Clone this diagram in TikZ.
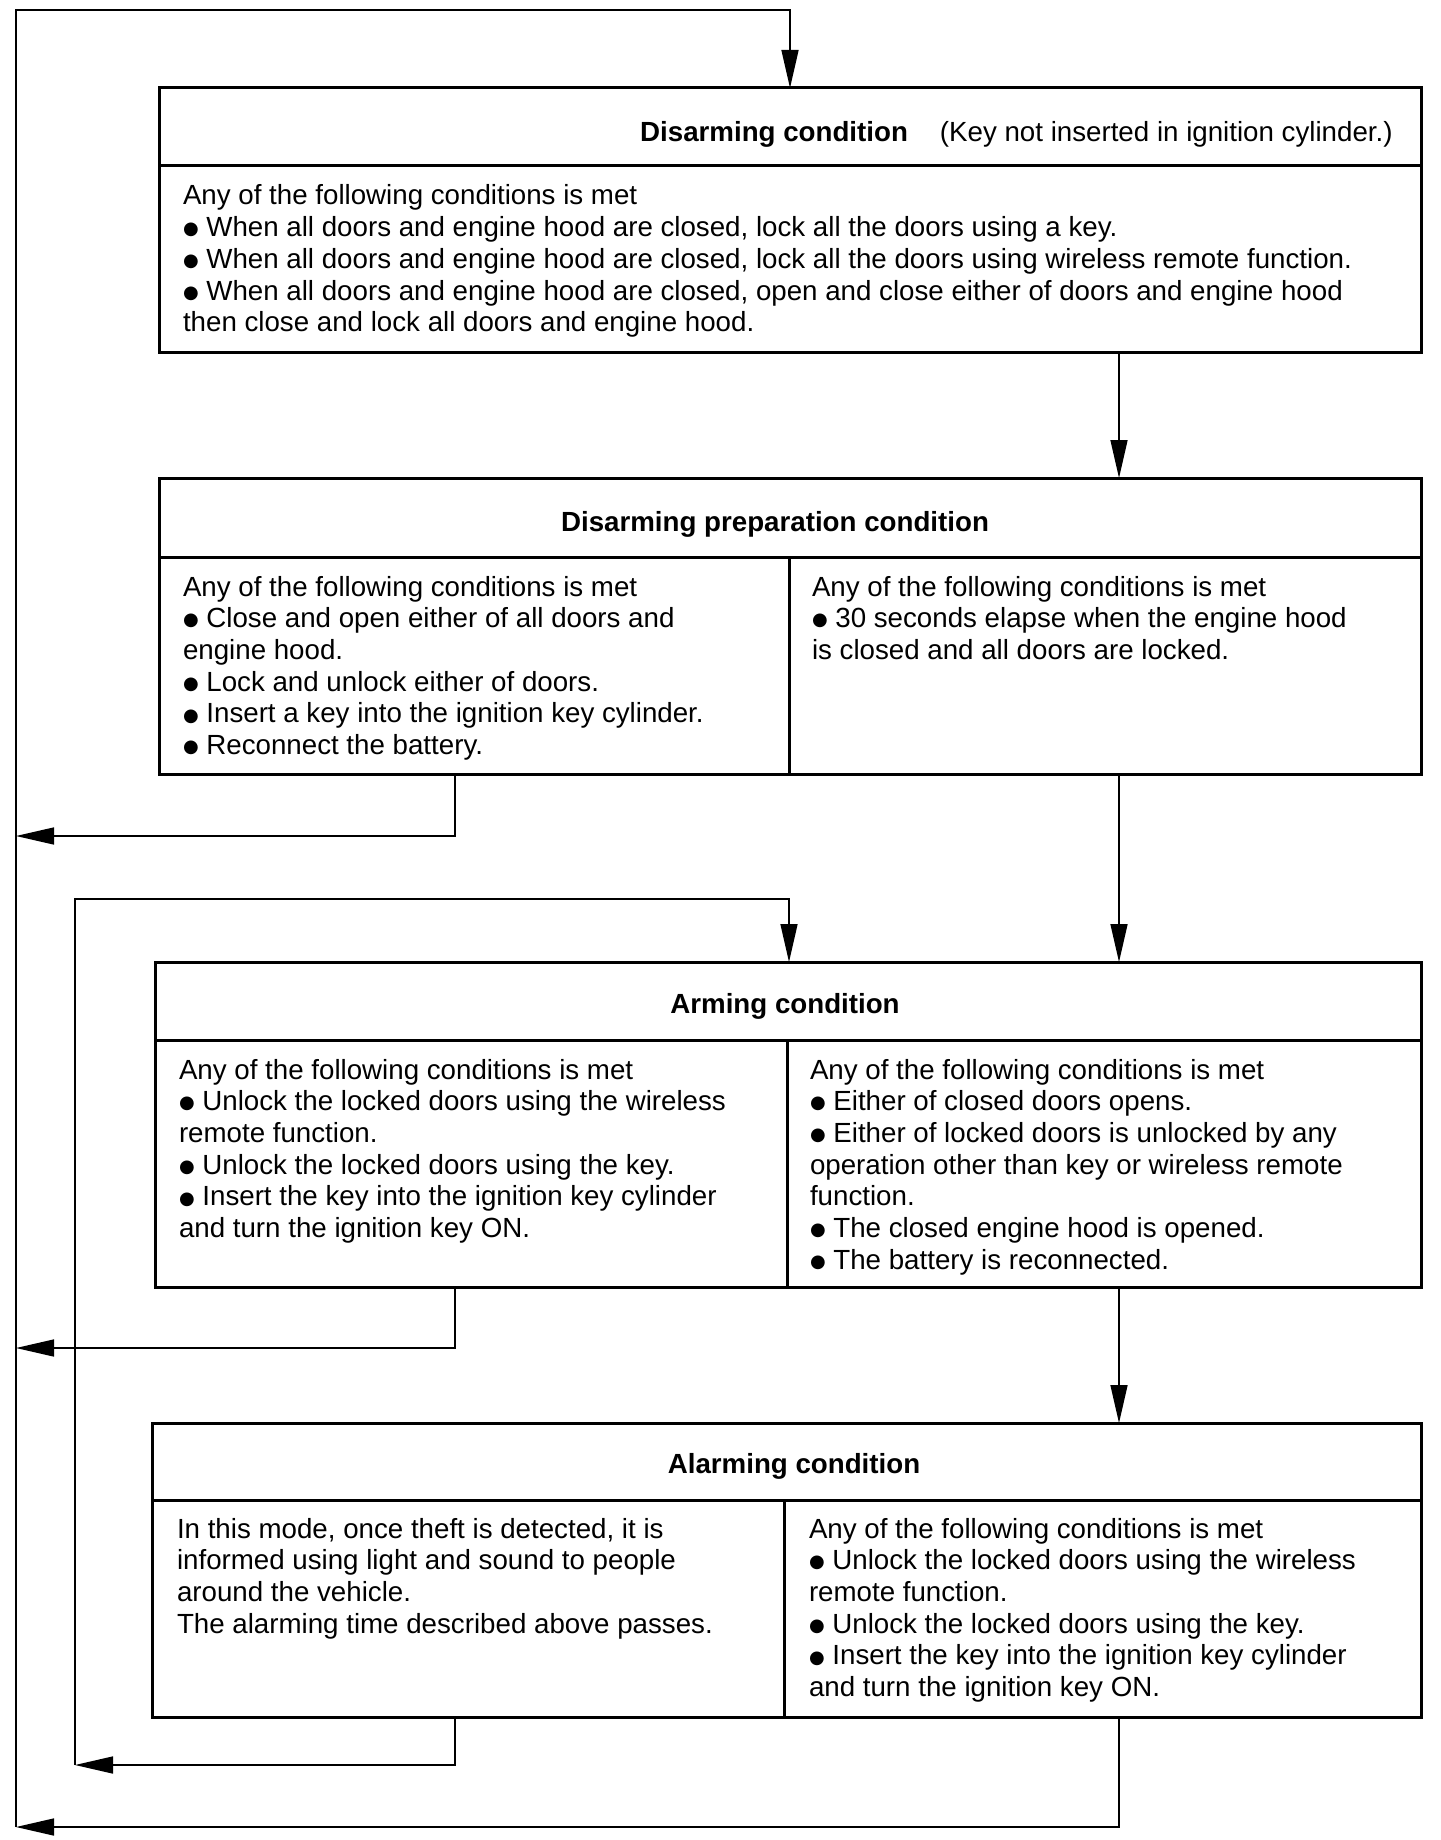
\documentclass[tikz,border=0pt]{standalone}
\usepackage{fontspec}
\setmainfont{Liberation Sans}
\newfontfamily\symfont{DejaVu Sans}
\usetikzlibrary{arrows.meta}
\newcommand\bul{\raisebox{0.9pt}{\symfont\fontsize{9}{9}\selectfont ●}}
\begin{document}
\begin{tikzpicture}[x=0.5pt,y=-0.5pt,
  cell/.style={draw, rectangle, line width=1.5pt, inner sep=0pt, outer sep=0pt, anchor=north west},
  txt/.style={anchor=north west, inner sep=0pt, outer sep=0pt, align=left, font=\fontsize{13.85}{15.85}\selectfont},
  ttl/.style={anchor=base, inner sep=0pt, font=\fontsize{13.85}{16}\selectfont\bfseries},
  arr/.style={draw, line width=0.75pt, -{Triangle[length=19pt,width=8.5pt]}}]
\fill[white] (0,0) rectangle (1440,1840);
\useasboundingbox (0,0) rectangle (1440,1840);

% column coordinates
\coordinate (xr) at (1119,0);
\coordinate (xl) at (455,0);
\coordinate (xm) at (789,0);
\coordinate (Ltop) at (16,10);
\coordinate (Lbot) at (16,1827);
\coordinate (L1) at (16,836);
\coordinate (L2) at (16,1348);
\coordinate (Mtop) at (75,899);
\coordinate (Mbot) at (75,1765);

% Box 1
\node[cell, minimum width=631pt, minimum height=39pt] (h1) at (159,88) {};
\node[cell, minimum width=631pt, minimum height=93.5pt] (b1) at (159,166) {};
\node[anchor=base east, inner sep=0pt, font=\fontsize{13.85}{16}\selectfont] (t1) at (1393,142)
  {\textbf{Disarming condition}\hspace{16pt}(Key not inserted in ignition cylinder.)};
\node[txt] (x1) at (183,181) {\rule{0pt}{12pt}Any of the following conditions is met\\
\bul\ When all doors and engine hood are closed, lock all the doors using a key.\\
\bul\ When all doors and engine hood are closed, lock all the doors using wireless remote function.\\
\bul\ When all doors and engine hood are closed, open and close either of doors and engine hood\\
then close and lock all doors and engine hood.};

% Box 2
\node[cell, minimum width=631pt, minimum height=39.5pt] (h2) at (159,478) {};
\node[cell, minimum width=315pt, minimum height=108.5pt] (c2l) at (159,557) {};
\node[cell, minimum width=316pt, minimum height=108.5pt] (c2r) at (789,557) {};
\node[ttl] (t2) at (775,531) {Disarming preparation condition};
\node[txt] (x2l) at (183,572) {\rule{0pt}{12pt}Any of the following conditions is met\\
\bul\ Close and open either of all doors and\\
engine hood.\\
\bul\ Lock and unlock either of doors.\\
\bul\ Insert a key into the ignition key cylinder.\\
\bul\ Reconnect the battery.};
\node[txt] (x2r) at (812,572) {\rule{0pt}{12pt}Any of the following conditions is met\\
\bul\ 30 seconds elapse when the engine hood\\
is closed and all doors are locked.};

% Box 3
\node[cell, minimum width=633pt, minimum height=39pt] (h3) at (155,962) {};
\node[cell, minimum width=316pt, minimum height=123.5pt] (c3l) at (155,1040) {};
\node[cell, minimum width=317pt, minimum height=123.5pt] (c3r) at (787,1040) {};
\node[ttl] (t3) at (785,1013) {Arming condition};
\node[txt] (x3l) at (179,1055) {\rule{0pt}{12pt}Any of the following conditions is met\\
\bul\ Unlock the locked doors using the wireless\\
remote function.\\
\bul\ Unlock the locked doors using the key.\\
\bul\ Insert the key into the ignition key cylinder\\
and turn the ignition key ON.};
\node[txt] (x3r) at (810,1055) {\rule{0pt}{12pt}Any of the following conditions is met\\
\bul\ Either of closed doors opens.\\
\bul\ Either of locked doors is unlocked by any\\
operation other than key or wireless remote\\
function.\\
\bul\ The closed engine hood is opened.\\
\bul\ The battery is reconnected.};

% Box 4
\node[cell, minimum width=634.5pt, minimum height=38.5pt] (h4) at (152,1423) {};
\node[cell, minimum width=316pt, minimum height=108.5pt] (c4l) at (152,1500) {};
\node[cell, minimum width=318.5pt, minimum height=108.5pt] (c4r) at (784,1500) {};
\node[ttl] (t4) at (794,1473) {Alarming condition};
\node[txt] (x4l) at (177,1514) {\rule{0pt}{12pt}In this mode, once theft is detected, it is\\
informed using light and sound to people\\
around the vehicle.\\
The alarming time described above passes.};
\node[txt] (x4r) at (809,1514) {\rule{0pt}{12pt}Any of the following conditions is met\\
\bul\ Unlock the locked doors using the wireless\\
remote function.\\
\bul\ Unlock the locked doors using the key.\\
\bul\ Insert the key into the ignition key cylinder\\
and turn the ignition key ON.};

% Connectors
\draw[arr] (Lbot) -- (Ltop) -| (h1.north);
\draw[arr] (b1.south -| xr) -- (h2.north -| xr);
\draw[arr] (c2l.south -| xl) |- (L1);
\draw[arr] (c2r.south -| xr) -- (h3.north -| xr);
\draw[arr] (Mbot) -- (Mtop) -| (h3.north -| xm);
\draw[arr] (c3l.south -| xl) |- (L2);
\draw[arr] (c3r.south -| xr) -- (h4.north -| xr);
\draw[arr] (c4l.south -| xl) |- (Mbot);
\draw[arr] (c4r.south -| xr) |- (Lbot);
\end{tikzpicture}
\end{document}
